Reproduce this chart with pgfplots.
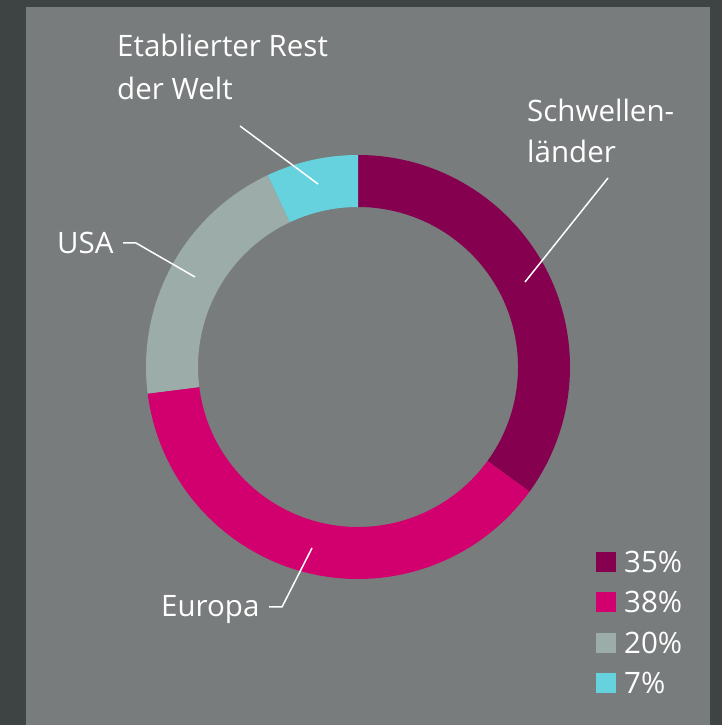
\documentclass[border=0pt]{standalone}
\usepackage{pgfplots}
\pgfplotsset{compat=1.18}
\usetikzlibrary{calc}
\usepackage{fontspec}
\setmainfont{Open Sans}

\definecolor{bgdark}{HTML}{3E4444}
\definecolor{panel}{HTML}{797C7C}
\definecolor{schw}{HTML}{85004F}
\definecolor{euro}{HTML}{D2006E}
\definecolor{usa}{HTML}{9CADA9}
\definecolor{rest}{HTML}{66D2DE}

\tikzset{lbl/.style={anchor=base west, inner sep=0pt, text=white,
    font=\fontsize{29.5}{35}\selectfont}}

% ring segment: cumulative start %, cumulative end %, colour
\newcommand{\ring}[3]{%
  \fill[#3] ($(O)+({90-3.6*#1}:212pt)$)
    arc[start angle={90-3.6*#1}, end angle={90-3.6*#2}, radius=212pt]
    -- ($(O)+({90-3.6*#2}:160pt)$)
    arc[start angle={90-3.6*#2}, end angle={90-3.6*#1}, radius=160pt] -- cycle;}

\begin{document}
\begin{tikzpicture}
\begin{axis}[
    width=722pt, height=725pt,
    scale only axis,
    xmin=0, xmax=722, ymin=0, ymax=725,
    hide axis,
    clip=false,
]
\fill[bgdark] (axis cs:0,0) rectangle (axis cs:722,725);
\fill[panel] (axis cs:26,0) rectangle (axis cs:710,718);
\coordinate (O) at (axis cs:358,358);

% shares: 35, 38, 20, 7
\ring{0}{35}{schw}
\ring{35}{73}{euro}
\ring{73}{93}{usa}
\ring{93}{100}{rest}

% leader lines
\draw[white, line width=1.5pt] (axis cs:240,599) -- (axis cs:318,541);
\draw[white, line width=1.5pt] (axis cs:123,482) -- (axis cs:136,482) -- (axis cs:195,448);
\draw[white, line width=1.5pt] (axis cs:269,118) -- (axis cs:282,118) -- (axis cs:312,177);
\draw[white, line width=1.5pt] (axis cs:608,547) -- (axis cs:525,443);

% labels
\node[lbl] at (axis cs:117,668) {Etablierter Rest};
\node[lbl] at (axis cs:117,625) {der Welt};
\node[lbl] at (axis cs:57,471) {USA};
\node[lbl] at (axis cs:161,108) {Europa};
\node[lbl] at (axis cs:527,603) {Schwellen-};
\node[lbl] at (axis cs:527,562) {länder};

% legend
\fill[schw] (axis cs:596,153) rectangle (axis cs:616,173);
\fill[euro] (axis cs:596,113) rectangle (axis cs:616,133);
\fill[usa]  (axis cs:596,72)  rectangle (axis cs:616,92);
\fill[rest] (axis cs:596,32)  rectangle (axis cs:616,52);
\node[lbl] at (axis cs:624,152) {35\%};
\node[lbl] at (axis cs:624,112) {38\%};
\node[lbl] at (axis cs:624,71) {20\%};
\node[lbl] at (axis cs:624,31) {7\%};
\end{axis}
\end{tikzpicture}
\end{document}
